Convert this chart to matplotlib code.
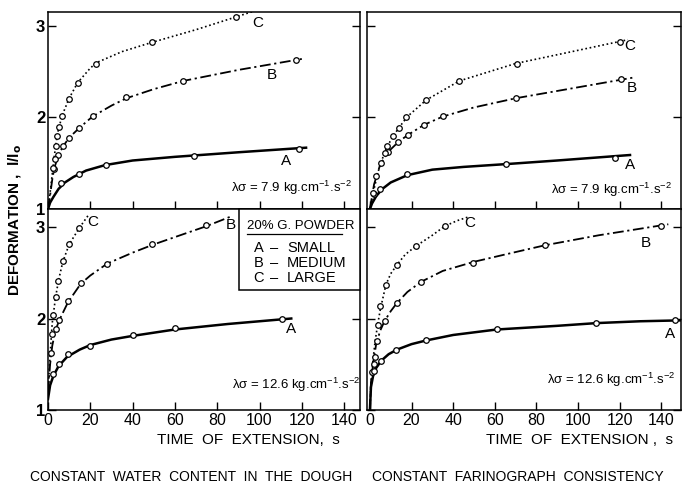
import matplotlib
matplotlib.use('Agg')
import matplotlib.pyplot as plt

plt.rcParams['font.family'] = ['Liberation Sans', 'DejaVu Sans']
plt.rcParams['mathtext.fontset'] = 'custom'
plt.rcParams['mathtext.rm'] = 'Liberation Sans'
plt.rcParams['mathtext.it'] = 'Liberation Sans:italic'

# ---- data: (markers, fitted curve) per grain size ----
# top left: constant water content, lambda*sigma = 7.9
tl_a_mx = [6.1, 14.7, 27.4, 69.0, 118.7]
tl_a_my = [1.28, 1.38, 1.48, 1.58, 1.66]
tl_a_cx = [0, 1, 2.5, 5, 8, 12, 18, 27, 40, 60, 90, 122]
tl_a_cy = [1.0, 1.07, 1.13, 1.22, 1.29, 1.35, 1.42, 1.48, 1.53, 1.57, 1.62, 1.67]
tl_b_mx = [2.8, 4.9, 6.9, 9.9, 14.7, 21.4, 36.9, 64.0, 117.3]
tl_b_my = [1.44, 1.59, 1.69, 1.78, 1.89, 2.02, 2.22, 2.40, 2.63]
tl_b_cx = [0, 1, 2, 3, 5, 7, 10, 15, 21, 30, 37, 50, 64, 90, 120]
tl_b_cy = [1.0, 1.15, 1.32, 1.45, 1.59, 1.68, 1.78, 1.89, 2.01, 2.13, 2.21, 2.31, 2.40, 2.52, 2.64]
tl_c_mx = [2.5, 3.2, 3.8, 4.4, 5.2, 6.8, 9.9, 14.3, 22.6, 49.0, 88.9]
tl_c_my = [1.45, 1.55, 1.69, 1.80, 1.90, 2.02, 2.20, 2.38, 2.59, 2.82, 3.10]
tl_c_cx = [0, 1, 2, 3, 4, 5, 7, 10, 14, 20, 23, 35, 49, 70, 89, 97]
tl_c_cy = [1.0, 1.18, 1.38, 1.58, 1.75, 1.88, 2.04, 2.21, 2.38, 2.54, 2.60, 2.72, 2.82, 2.96, 3.10, 3.16]

# top right: constant farinograph consistency, lambda*sigma = 7.9
tr_a_mx = [2.0, 4.8, 17.9, 65.2, 118.0]
tr_a_my = [1.16, 1.22, 1.38, 1.49, 1.56]
tr_a_cx = [0, 1, 3, 6, 10, 18, 30, 45, 65, 90, 125]
tr_a_cy = [1.0, 1.06, 1.14, 1.22, 1.29, 1.37, 1.43, 1.46, 1.49, 1.53, 1.59]
tr_b_mx = [2.9, 5.2, 8.7, 13.7, 18.4, 25.9, 34.9, 70.0, 120.8]
tr_b_my = [1.36, 1.50, 1.62, 1.73, 1.81, 1.92, 2.02, 2.21, 2.42]
tr_b_cx = [0, 2, 5, 9, 14, 19, 26, 35, 50, 70, 95, 127.5]
tr_b_cy = [1.0, 1.27, 1.49, 1.63, 1.74, 1.82, 1.92, 2.01, 2.11, 2.21, 2.31, 2.44]
tr_c_mx = [1.3, 7.3, 8.1, 11.3, 14.0, 17.5, 26.8, 42.9, 70.6, 120.3]
tr_c_my = [1.17, 1.61, 1.69, 1.80, 1.89, 2.01, 2.19, 2.40, 2.59, 2.83]
tr_c_cx = [0, 2, 4, 6, 8, 11, 14, 18, 27, 43, 70, 95, 124]
tr_c_cy = [1.0, 1.22, 1.41, 1.55, 1.67, 1.79, 1.89, 2.01, 2.19, 2.40, 2.59, 2.71, 2.85]

# bottom left: constant water content, lambda*sigma = 12.6
bl_a_mx = [2.5, 5.3, 9.6, 19.9, 40.0, 60.0, 110.8]
bl_a_my = [1.39, 1.50, 1.61, 1.70, 1.82, 1.90, 1.99]
bl_a_cx = [0, 1, 2.5, 5, 9, 15, 20, 30, 40, 60, 85, 115]
bl_a_cy = [1.12, 1.27, 1.37, 1.48, 1.58, 1.66, 1.71, 1.77, 1.81, 1.88, 1.94, 2.00]
bl_b_mx = [1.5, 3.6, 5.3, 9.6, 15.6, 27.7, 49.3, 74.6]
bl_b_my = [1.62, 1.89, 1.98, 2.19, 2.39, 2.60, 2.81, 3.02]
bl_b_cx = [0, 1, 2, 3.5, 5.5, 9.5, 15.5, 20, 28, 40, 50, 65, 75, 87]
bl_b_cy = [1.2, 1.5, 1.7, 1.87, 1.99, 2.18, 2.38, 2.47, 2.60, 2.72, 2.81, 2.93, 3.01, 3.12]
bl_c_mx = [1.8, 2.5, 3.6, 4.9, 7.2, 10.1, 14.8]
bl_c_my = [1.83, 2.04, 2.23, 2.41, 2.63, 2.81, 2.99]
bl_c_cx = [0, 1, 2, 3.5, 5, 7, 10, 14.8, 19.1]
bl_c_cy = [1.2, 1.6, 1.95, 2.22, 2.42, 2.62, 2.81, 2.99, 3.13]

# bottom right: constant farinograph consistency, lambda*sigma = 12.6
br_a_mx = [1.0, 2.1, 5.3, 12.5, 26.9, 60.9, 108.7, 146.5]
br_a_my = [1.41, 1.43, 1.54, 1.66, 1.76, 1.89, 1.95, 1.98]
br_a_cx = [0, 0.5, 1.5, 3, 5.5, 9, 13, 20, 27, 40, 61, 90, 109, 130, 150]
br_a_cy = [1.0, 1.25, 1.37, 1.46, 1.54, 1.61, 1.66, 1.72, 1.76, 1.82, 1.88, 1.92, 1.95, 1.97, 1.98]
br_b_mx = [2.4, 3.2, 7.2, 13.1, 24.5, 49.7, 84.1, 139.9]
br_b_my = [1.58, 1.75, 1.97, 2.17, 2.40, 2.61, 2.80, 3.01]
br_b_cx = [0, 0.5, 1.5, 3, 5, 7, 10, 13, 18, 24.5, 35, 50, 65, 84, 110, 143.4]
br_b_cy = [1.0, 1.3, 1.5, 1.72, 1.87, 1.97, 2.08, 2.17, 2.29, 2.40, 2.52, 2.62, 2.70, 2.80, 2.91, 3.03]
br_c_mx = [2.0, 3.7, 4.8, 7.7, 13.1, 22.0, 36.1]
br_c_my = [1.50, 1.93, 2.14, 2.37, 2.59, 2.79, 3.01]
br_c_cx = [0, 0.5, 1.5, 2.5, 3.7, 5, 7.7, 10, 13.1, 17, 22, 30, 36, 42, 47.3]
br_c_cy = [1.0, 1.3, 1.55, 1.75, 1.93, 2.1, 2.37, 2.49, 2.59, 2.70, 2.79, 2.91, 3.01, 3.07, 3.11]

x_ticks = [0, 20, 40, 60, 80, 100, 120, 140]
y_ticks = [1, 2, 3]
legend_title = '20% G. POWDER'
legend_rows = [('A', 'SMALL'), ('B', 'MEDIUM'), ('C', 'LARGE')]

styles = {
    'A': dict(ls='-', lw=1.8),
    'B': dict(ls=(0, (6, 2, 1.2, 2)), lw=1.3),
    'C': dict(ls=(0, (1, 1.6)), lw=1.2),
}

fig = plt.figure(figsize=(6.82, 4.87), dpi=100)
W, H = 682.0, 487.0


def px_axes(x0, y0, x1, y1):
    return fig.add_axes([x0 / W, 1 - y1 / H, (x1 - x0) / W, (y1 - y0) / H])


def draw_panel(ax, series, xlim, ylim, label_pos, lam_text, lam_pos, show_x, show_y):
    for key, (mx, my, cx, cy) in series.items():
        ax.plot(cx, cy, color='black', **styles[key])
        ax.plot(mx, my, 'o', ms=4, mfc='white', mec='black', mew=0.9, ls='none', zorder=3)
        lx, ly = label_pos[key]
        ax.text(lx, ly, key, fontsize=11, ha='center', va='center')
    ax.text(lam_pos[0], lam_pos[1], lam_text, fontsize=9.5, ha='left', va='center')
    ax.set_xlim(*xlim)
    ax.set_ylim(*ylim)
    ax.set_xticks(x_ticks)
    ax.set_yticks(y_ticks)
    ax.tick_params(direction='in', length=6, width=1, left=True, right=True,
                   labelsize=11.5, pad=2)
    if not show_x:
        ax.set_xticklabels([])
    if not show_y:
        ax.set_yticklabels([])
    else:
        for t in ax.get_yticklabels():
            t.set_fontweight('bold')
            t.set_fontsize(12)
    for s in ax.spines.values():
        s.set_linewidth(1.1)


lam79 = r'λσ = 7.9 kg.cm$^{-1}$.s$^{-2}$'
lam126 = r'λσ = 12.6 kg.cm$^{-1}$.s$^{-2}$'

ax_tl = px_axes(48, 12, 360, 209)
draw_panel(ax_tl,
           {'A': (tl_a_mx, tl_a_my, tl_a_cx, tl_a_cy),
            'B': (tl_b_mx, tl_b_my, tl_b_cx, tl_b_cy),
            'C': (tl_c_mx, tl_c_my, tl_c_cx, tl_c_cy)},
           (0, 147.5), (1, 3.153),
           {'A': (112.5, 1.52), 'B': (106, 2.46), 'C': (99, 3.03)},
           lam79, (86.5, 1.23), False, True)

ax_tr = px_axes(367, 12, 681, 209)
draw_panel(ax_tr,
           {'A': (tr_a_mx, tr_a_my, tr_a_cx, tr_a_cy),
            'B': (tr_b_mx, tr_b_my, tr_b_cx, tr_b_cy),
            'C': (tr_c_mx, tr_c_my, tr_c_cx, tr_c_cy)},
           (-1.4, 149.5), (1, 3.153),
           {'A': (125, 1.48), 'B': (126, 2.32), 'C': (125, 2.78)},
           lam79, (87, 1.21), False, False)

ax_bl = px_axes(48, 209, 360, 410)
draw_panel(ax_bl,
           {'A': (bl_a_mx, bl_a_my, bl_a_cx, bl_a_cy),
            'B': (bl_b_mx, bl_b_my, bl_b_cx, bl_b_cy),
            'C': (bl_c_mx, bl_c_my, bl_c_cx, bl_c_cy)},
           (0, 147.5), (1, 3.197),
           {'A': (114.7, 1.89), 'B': (86.5, 3.02), 'C': (21, 3.05)},
           lam126, (87, 1.27), True, True)

ax_br = px_axes(367, 209, 681, 410)
draw_panel(ax_br,
           {'A': (br_a_mx, br_a_my, br_a_cx, br_a_cy),
            'B': (br_b_mx, br_b_my, br_b_cx, br_b_cy),
            'C': (br_c_mx, br_c_my, br_c_cx, br_c_cy)},
           (-1.4, 149.5), (1, 3.197),
           {'A': (144, 1.83), 'B': (132.7, 2.83), 'C': (47.8, 3.04)},
           lam126, (85, 1.33), True, False)

# legend box drawn over the lower left panel
lx0, ly0, lx1, ly1 = 239 / W, 1 - 290 / H, 360 / W, 1 - 209 / H
fig.patches.append(plt.Rectangle((lx0, ly0), lx1 - lx0, ly1 - ly0,
                                 transform=fig.transFigure, fill=True,
                                 facecolor='white', edgecolor='black', lw=1.1,
                                 zorder=5))
fig.text(247 / W, 1 - 226 / H, legend_title, fontsize=9.5, ha='left', va='center',
         zorder=6)
fig.add_artist(plt.Line2D([247 / W, 342 / W], [1 - 234 / H, 1 - 234 / H],
                          transform=fig.transFigure, color='black', lw=0.9, zorder=6))
for i, (k, name) in enumerate(legend_rows):
    yy = 1 - (248 + 15 * i) / H
    fig.text(259 / W, yy, k, fontsize=10.5, ha='center', va='center', zorder=6)
    fig.text(274 / W, yy, '–', fontsize=10.5, ha='center', va='center', zorder=6)
    fig.text(287 / W, yy, name, fontsize=10.5, ha='left', va='center', zorder=6)

fig.text(15 / W, 1 - 220 / H, r'DEFORMATION ,  l/l$_\mathbf{o}$', rotation=90,
         fontsize=11, fontweight='bold', ha='center', va='center')
fig.text(248 / W, 1 - 440 / H, 'TIME  OF  EXTENSION,  s', fontsize=11,
         ha='center', va='center')
fig.text(580 / W, 1 - 440 / H, 'TIME  OF  EXTENSION ,  s', fontsize=11,
         ha='center', va='center')
fig.text(191 / W, 1 - 477 / H, 'CONSTANT  WATER  CONTENT  IN  THE  DOUGH',
         fontsize=10, ha='center', va='center')
fig.text(518 / W, 1 - 477 / H, 'CONSTANT  FARINOGRAPH  CONSISTENCY',
         fontsize=10, ha='center', va='center')

fig.savefig('out.png', dpi=100)
